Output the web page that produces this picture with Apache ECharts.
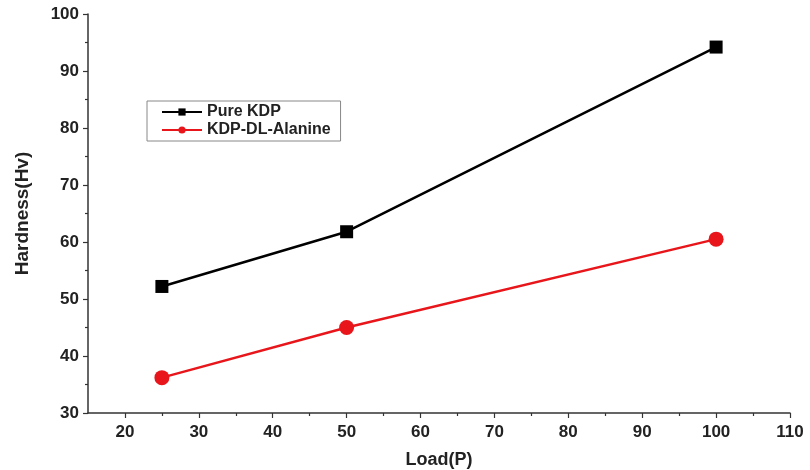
<!DOCTYPE html>
<html>
<head>
<meta charset="utf-8">
<script src="https://cdn.jsdelivr.net/npm/echarts@6/dist/echarts.min.js"></script>
<style>
  html, body { margin: 0; padding: 0; background: #fff; }
  #chart { width: 810px; height: 470px; }
</style>
</head>
<body>
<div id="chart"></div>
<script>
// load values (x) and hardness readings
const loads = [25, 50, 100]
const pureKDP = [52.2, 61.8, 94.2]
const kdpAlanine = [36.2, 45.0, 60.5]
const xLabelTicks = [20, 30, 40, 50, 60, 70, 80, 90, 100, 110]
const xMinorTicks = [25, 35, 45, 55, 65, 75, 85, 95, 105]

const font = 'Liberation Sans, Arial, sans-serif'
const axisColor = '#333'

const chart = echarts.init(document.getElementById('chart'))

const option = {
  backgroundColor: '#ffffff',
  animation: false,
  grid: { left: 88, right: 20, top: 14, bottom: 57, outerBoundsMode: 'none' },

  /** legend box */
  legend: {
    left: 147,
    top: 101,
    orient: 'vertical',
    itemWidth: 40,
    itemHeight: 9,
    itemGap: 2,
    padding: [3, 10, 3, 14],
    borderColor: '#888',
    borderWidth: 1,
    textStyle: { fontFamily: font, fontWeight: 'bold', fontSize: 16, color: '#222' },
    data: ['Pure KDP', 'KDP-DL-Alanine'],
  },

  xAxis: [
    {
      type: 'value',
      min: 15,
      max: 110,
      name: 'Load(P)',
      nameLocation: 'middle',
      nameGap: 38,
      nameTextStyle: { fontFamily: font, fontWeight: 'bold', fontSize: 18, color: '#222' },
      axisLine: { show: true, lineStyle: { color: axisColor, width: 1.5 } },
      axisTick: { show: true, length: 5, customValues: xLabelTicks, lineStyle: { color: axisColor, width: 1.2 } },
      axisLabel: {
        customValues: xLabelTicks,
        margin: 11,
        fontFamily: font, fontWeight: 'bold', fontSize: 17, color: '#222',
      },
      splitLine: { show: false },
    },
    /** minor ticks only */
    {
      type: 'value',
      position: 'bottom',
      min: 15,
      max: 110,
      axisLine: { show: false },
      axisTick: { show: true, length: 3, customValues: xMinorTicks, lineStyle: { color: axisColor, width: 1.2 } },
      axisLabel: { show: false },
      splitLine: { show: false },
    },
  ],

  yAxis: {
    type: 'value',
    min: 30,
    max: 100,
    interval: 10,
    name: 'Hardness(Hv)',
    nameLocation: 'middle',
    nameGap: 56,
    nameTextStyle: { fontFamily: font, fontWeight: 'bold', fontSize: 19, color: '#222' },
    axisLine: { show: true, lineStyle: { color: axisColor, width: 1.5 } },
    axisTick: { show: true, length: 5, lineStyle: { color: axisColor, width: 1.2 } },
    minorTick: { show: true, splitNumber: 2, length: 3, lineStyle: { color: axisColor, width: 1.2 } },
    axisLabel: { margin: 9, fontFamily: font, fontWeight: 'bold', fontSize: 17, color: '#222' },
    splitLine: { show: false },
  },

  series: [
    {
      name: 'Pure KDP',
      type: 'line',
      data: loads.map((x, i) => [x, pureKDP[i]]),
      symbol: 'rect',
      symbolSize: 13,
      itemStyle: { color: '#000' },
      lineStyle: { color: '#000', width: 2.5 },
    },
    {
      name: 'KDP-DL-Alanine',
      type: 'line',
      data: loads.map((x, i) => [x, kdpAlanine[i]]),
      symbol: 'circle',
      symbolSize: 15,
      itemStyle: { color: '#e8161b' },
      lineStyle: { color: '#e8161b', width: 2.5 },
    },
  ],
}

chart.setOption(option)
</script>
</body>
</html>
